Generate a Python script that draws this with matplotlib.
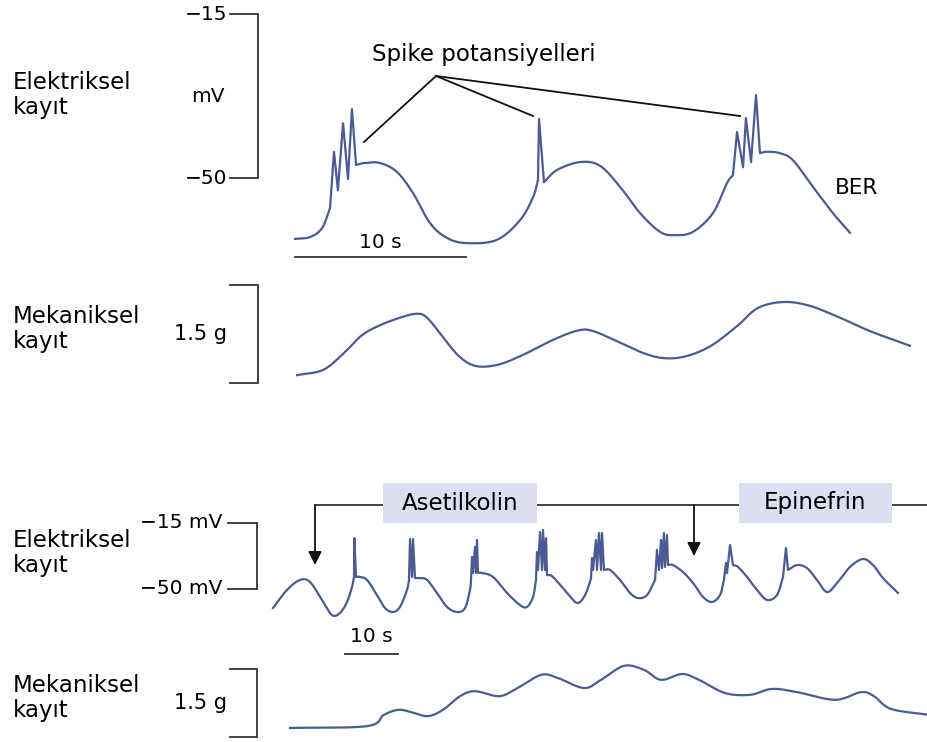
import numpy as np
import matplotlib
matplotlib.use("Agg")
import matplotlib.pyplot as plt
from matplotlib.patches import Rectangle
from matplotlib.transforms import blended_transform_factory as blend

W, H = 928, 742
INK = "#333333"
TRACE = "#4a5c93"
BOX = "#dcdff2"

# ---- ust kayit (yavas) : zaman (s), membran potansiyeli (mV)
top_elec_t = [0, 0.88, 1.58, 2.05, 2.28, 2.51, 2.81, 3.10, 3.33, 3.57, 4.09, 4.97,
              5.96, 6.90, 7.89, 8.89, 10.06, 11.81, 13.16, 13.92, 14.21, 14.27, 14.56,
              15.32, 16.67, 17.84, 19.01, 20.18, 21.35, 22.22, 23.27, 24.44, 25.26,
              25.61, 25.85, 26.20, 26.37, 26.67, 26.96, 27.19, 27.60, 28.36, 29.12,
              30.29, 31.46, 32.46]
top_elec_mv = [-63.0, -62.6, -60.7, -56.4, -44.4, -52.6, -38.3, -50.2, -35.3, -47.2,
               -46.8, -46.8, -48.7, -53.2, -59.6, -62.8, -63.9, -63.2, -59.0, -54.1,
               -50.4, -37.4, -50.9, -48.3, -46.6, -47.4, -51.9, -57.5, -61.5, -62.2,
               -61.5, -57.5, -51.1, -49.4, -40.2, -47.7, -37.2, -46.6, -32.3, -44.7,
               -44.4, -44.7, -46.2, -51.9, -57.5, -61.7]
top_elec_kinks = [3, 4, 5, 6, 7, 8, 9, 20, 21, 22, 33, 34, 35, 36, 37, 38, 39]

top_mech_t = [0.12, 1.64, 2.87, 3.86, 4.85, 6.14, 7.13, 7.72, 8.60, 9.59, 10.58, 11.87,
              13.33, 15.09, 16.49, 17.37, 18.83, 20.35, 21.58, 22.87, 24.33, 25.85,
              27.08, 28.60, 30.12, 31.87, 33.57, 35.96]
top_mech_g = [0.12, 0.20, 0.46, 0.72, 0.87, 1.00, 1.06, 1.00, 0.72, 0.41, 0.26, 0.28,
              0.43, 0.66, 0.80, 0.80, 0.64, 0.46, 0.38, 0.41, 0.57, 0.87, 1.15, 1.24,
              1.18, 1.00, 0.80, 0.57]

# ---- alt kayit (hizli) : asetilkolin ve epinefrin etkisi
bot_elec_t = [0, 2.64, 5.09, 6.98, 9.25, 11.13, 12.64, 13.96, 14.91, 15.28, 15.35, 15.66,
              16.42, 17.74, 19.62, 21.13, 22.64, 23.96, 25.28, 25.66, 25.85, 26.23, 26.42,
              26.79, 27.74, 29.06, 30.94, 32.83, 34.72, 36.23, 37.17, 37.36, 37.55, 37.74,
              38.11, 38.30, 38.49, 38.68, 39.43, 41.51, 44.15, 46.60, 47.92, 49.06, 49.62,
              49.81, 50.00, 50.38, 50.75, 50.94, 51.32, 51.51, 51.70, 52.83, 55.47, 57.36,
              58.68, 59.62, 60.00, 60.19, 60.38, 60.94, 61.13, 61.51, 61.89, 62.08, 62.45,
              63.58, 65.47, 67.36, 68.87, 70.57, 72.08, 72.45, 72.83, 73.21, 73.40, 73.77,
              73.96, 74.34, 74.53, 75.47, 77.36, 79.25, 81.13, 82.83, 84.34, 85.09, 85.47,
              85.66, 86.23, 86.79, 87.74, 89.43, 91.32, 93.21, 95.09, 96.23, 96.79, 97.17,
              98.87, 100.75, 102.64, 104.53, 106.42, 108.87, 111.32, 113.21, 115.09, 117.92]
bot_elec_mv = [-60.1, -50.5, -45.2, -46.3, -55.8, -63.8, -62.7, -56.9, -48.9, -43.6, -23.0,
               -43.6, -43.6, -45.2, -53.2, -60.1, -62.2, -59.5, -50.5, -45.2, -23.5, -43.6,
               -23.5, -44.2, -44.2, -45.2, -52.1, -59.5, -62.2, -60.1, -50.5, -45.2, -33.0,
               -41.5, -27.7, -41.5, -24.0, -41.5, -41.5, -43.6, -52.1, -58.5, -59.5, -54.2,
               -45.2, -30.4, -39.9, -19.8, -39.9, -18.7, -39.9, -23.0, -42.6, -43.6, -52.1,
               -57.4, -54.2, -47.9, -44.2, -33.6, -39.9, -24.0, -39.9, -20.3, -39.9, -20.3,
               -39.9, -39.9, -45.2, -52.1, -54.8, -53.2, -45.2, -29.3, -39.9, -24.0, -38.9,
               -20.3, -38.3, -21.4, -37.3, -37.3, -41.0, -46.8, -54.2, -56.9, -53.2, -45.2,
               -36.2, -41.5, -26.7, -37.3, -38.3, -43.6, -50.5, -55.8, -53.2, -43.6, -28.3,
               -39.9, -37.3, -38.9, -45.2, -51.6, -46.8, -38.3, -34.1, -37.3, -44.2, -52.1]
bot_elec_kinks = (list(range(9, 12)) + list(range(19, 24)) + list(range(31, 38)) +
                  list(range(44, 53)) + list(range(58, 67)) + list(range(72, 81)) +
                  list(range(87, 92)) + list(range(97, 100)))

bot_mech_t = [3.21, 17.74, 20.94, 23.77, 26.60, 29.25, 32.08, 35.28, 38.11, 42.64, 45.85,
              50.57, 53.77, 58.68, 61.89, 66.23, 70.00, 73.21, 77.17, 80.38, 85.28, 90.00,
              94.15, 98.87, 106.04, 110.94, 113.40, 116.60, 123.58]
bot_mech_g = [0.20, 0.24, 0.49, 0.60, 0.53, 0.46, 0.60, 0.90, 1.01, 0.90, 1.06, 1.37,
              1.30, 1.08, 1.26, 1.57, 1.48, 1.26, 1.39, 1.26, 0.97, 0.93, 1.06, 0.99,
              0.82, 0.99, 0.90, 0.62, 0.49]


def smooth(t, v, kinks=(), n=16):
    # Catmull-Rom egrisi, kink noktalarinda kirik birakilir
    pts = np.column_stack([t, v]).astype(float)
    cuts = sorted(set([0, len(pts) - 1] + list(kinks)))
    out = [pts[:1]]
    s = np.linspace(0, 1, n)[1:, None]
    for a, b in zip(cuts[:-1], cuts[1:]):
        seg = pts[a:b + 1]
        if len(seg) == 2:
            out.append(seg[1:])
            continue
        ext = np.vstack([2 * seg[0] - seg[1], seg, 2 * seg[-1] - seg[-2]])
        for i in range(1, len(ext) - 2):
            p0, p1, p2, p3 = ext[i - 1], ext[i], ext[i + 1], ext[i + 2]
            c = 0.5 * (2 * p1 + (p2 - p0) * s
                       + (2 * p0 - 5 * p1 + 4 * p2 - p3) * s ** 2
                       + (3 * p1 - p0 - 3 * p2 + p3) * s ** 3)
            out.append(c)
    res = np.vstack(out)
    return res[:, 0], res[:, 1]


fig = plt.figure(figsize=(W / 100, H / 100), dpi=100)
lay = fig.add_axes([0, 0, 1, 1], frameon=False)
lay.set_xlim(0, W)
lay.set_ylim(H, 0)
lay.set_axis_off()


def panel(px0, px_per_s, py_a, val_a, py_b, val_b):
    ax = fig.add_axes([0, 0, 1, 1], frameon=False)
    ax.set_autoscale_on(False)
    per_px = (val_a - val_b) / (py_b - py_a)
    ax.set_xlim(-px0 / px_per_s, (W - px0) / px_per_s)
    ax.set_ylim(val_a - (H - py_a) * per_px, val_a + py_a * per_px)
    ax.set_axis_off()
    return ax


def bracket(ax, x0, x1, lo, hi):
    tr = blend(lay.transData, ax.transData)
    ax.plot([x0, x1, x1, x0], [hi, hi, lo, lo], transform=tr, color=INK, lw=1.3,
            solid_joinstyle="miter")
    return tr


def scalebar(ax, t0, y, label, ty):
    tr = blend(ax.transData, lay.transData)
    ax.plot([t0, t0 + 10], [y, y], transform=tr, color=INK, lw=1.3)
    ax.text(t0 + 5, ty, label, transform=tr, ha="center", va="center", fontsize=14.5)


top_e = panel(295, 17.1, 14, -15, 178, -50)
top_m = panel(295, 17.1, 285, 1.5, 383, 0)
bot_e = panel(273, 5.3, 523, -15, 589, -50)
bot_m = panel(273, 5.3, 669, 1.5, 737, 0)

top_e.plot(*smooth(top_elec_t, top_elec_mv, top_elec_kinks), color=TRACE, lw=1.6)
top_m.plot(*smooth(top_mech_t, top_mech_g), color=TRACE, lw=1.6)
bot_e.plot(*smooth(bot_elec_t, bot_elec_mv, bot_elec_kinks), color=TRACE, lw=1.6)
bot_m.plot(*smooth(bot_mech_t, bot_mech_g), color=TRACE, lw=1.6)

# olcek parantezleri
tr = bracket(top_e, 230, 258, -50, -15)
top_e.text(227, -15, "\u221215", transform=tr, ha="right", va="center", fontsize=14.5)
top_e.text(227, -50, "\u221250", transform=tr, ha="right", va="center", fontsize=14.5)
top_e.text(208, -32.5, "mV", transform=tr, ha="center", va="center", fontsize=14.5)

tr = bracket(top_m, 230, 258, 0, 1.5)
top_m.text(227, 0.75, "1.5 g", transform=tr, ha="right", va="center", fontsize=15)

tr = bracket(bot_e, 228, 257, -50, -15)
bot_e.text(222, -15, "\u221215 mV", transform=tr, ha="right", va="center", fontsize=14.5)
bot_e.text(222, -50, "\u221250 mV", transform=tr, ha="right", va="center", fontsize=14.5)

tr = bracket(bot_m, 230, 257, 0, 1.5)
bot_m.text(227, 0.75, "1.5 g", transform=tr, ha="right", va="center", fontsize=15)

scalebar(top_e, 0, 257, "10 s", 243)
scalebar(bot_e, 13.6, 654, "10 s", 637)

# sol basliklar
for y, txt in [(95, "Elektriksel\nkay\u0131t"), (329, "Mekaniksel\nkay\u0131t"),
               (553, "Elektriksel\nkay\u0131t"), (698, "Mekaniksel\nkay\u0131t")]:
    lay.text(13, y, txt, ha="left", va="center", fontsize=16.5, linespacing=1.1)

# spike etiketi
lay.text(484, 54, "Spike potansiyelleri", ha="center", va="center", fontsize=16.5)
for x, y in [(364, 142), (533, 116), (740, 116)]:
    lay.plot([436, x], [76, y], color="#111111", lw=1.3)
lay.text(835, 188, "BER", ha="left", va="center", fontsize=15.5)

# asetilkolin / epinefrin
lay.plot([315, W], [505, 505], color=INK, lw=1.3, zorder=1)
for x, tip in [(315, 565), (694, 556)]:
    lay.annotate("", xy=(x, tip), xytext=(x, 505),
                 arrowprops=dict(arrowstyle="-|>", color="#111111", lw=1.3,
                                 mutation_scale=20, shrinkA=0, shrinkB=0))
for x0, x1, txt in [(383, 537, "Asetilkolin"), (739, 892, "Epinefrin")]:
    lay.add_patch(Rectangle((x0, 483), x1 - x0, 40, facecolor=BOX, edgecolor="none",
                            zorder=2))
    lay.text((x0 + x1) / 2, 503, txt, ha="center", va="center", fontsize=16.5, zorder=3)

fig.savefig("out.png", dpi=100)
